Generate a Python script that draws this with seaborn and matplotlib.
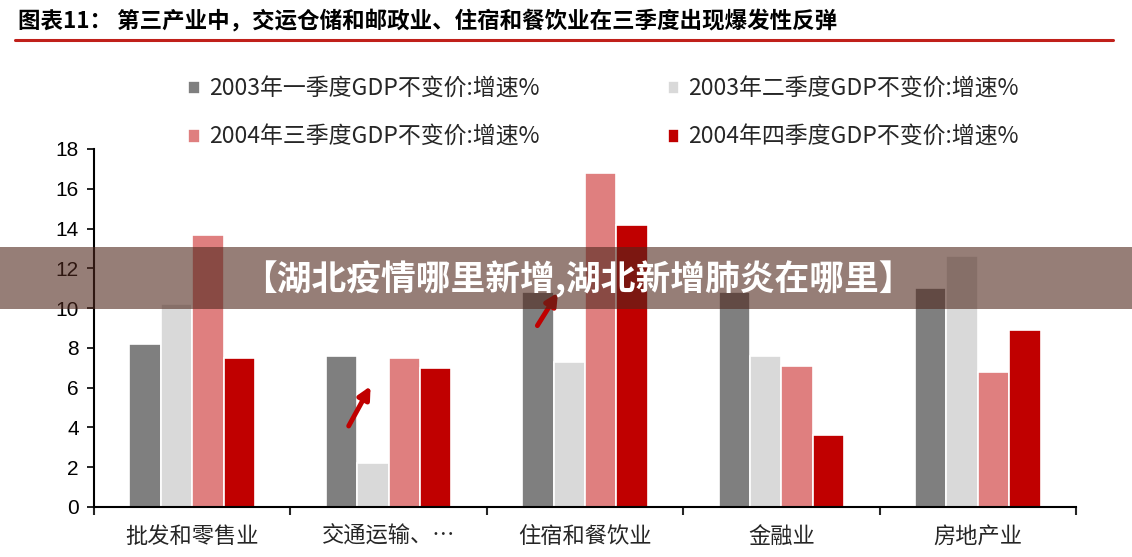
import matplotlib
matplotlib.use("Agg")
import matplotlib.pyplot as plt
from matplotlib.patches import Rectangle
from matplotlib.lines import Line2D
import seaborn as sns
import pandas as pd

categories = ["批发和零售业", "交通运输、…", "住宿和餐饮业", "金融业", "房地产业"]
series_names = ["2003年一季度GDP不变价:增速%", "2003年二季度GDP不变价:增速%",
                "2004年三季度GDP不变价:增速%", "2004年四季度GDP不变价:增速%"]
q1_2003 = [8.2, 7.6, 10.8, 10.8, 11.0]
q2_2003 = [10.2, 2.2, 7.3, 7.6, 12.6]
q3_2004 = [13.7, 7.5, 16.8, 7.1, 6.8]
q4_2004 = [7.5, 7.0, 14.2, 3.6, 8.9]
colors = ["#7f7f7f", "#d9d9d9", "#df7f7f", "#c00000"]
title = "图表11： 第三产业中，交运仓储和邮政业、住宿和餐饮业在三季度出现爆发性反弹"
banner = "【湖北疫情哪里新增,湖北新增肺炎在哪里】"

rows = []
for name, vals in zip(series_names, [q1_2003, q2_2003, q3_2004, q4_2004]):
    for c, v in zip(categories, vals):
        rows.append({"行业": c, "系列": name, "值": v})
df = pd.DataFrame(rows)

sns.set_style("white")
plt.rcParams["font.family"] = ["Noto Sans CJK SC", "DejaVu Sans"]

fig = plt.figure(figsize=(11.32, 5.57), dpi=100)
ax = fig.add_axes([94/1132, 1-507/557, (1076-94)/1132, (507-149)/557])

sns.barplot(data=df, x="行业", y="值", hue="系列", order=categories,
            hue_order=series_names, palette=colors, saturation=1, width=0.64,
            edgecolor="white", linewidth=1.2, ax=ax, legend=True)

ax.set_ylim(0, 18)
ax.set_xlim(-0.5, len(categories) - 0.5)
ax.set_yticks(range(0, 19, 2))
ax.set_xlabel("")
ax.set_ylabel("")
for s in ["top", "right"]:
    ax.spines[s].set_visible(False)
for s in ["left", "bottom"]:
    ax.spines[s].set_color("black")
    ax.spines[s].set_linewidth(1.5)
ax.tick_params(axis="y", left=True, length=5, width=1.2, labelsize=15, pad=6, colors="black")
ax.tick_params(axis="x", which="major", length=0, labelsize=16, pad=13)
ax.set_xticks([i - 0.5 for i in range(len(categories) + 1)], minor=True)
ax.tick_params(axis="x", which="minor", bottom=True, length=6, width=1.5, direction="out")
for lbl in ax.get_yticklabels():
    lbl.set_family(["Liberation Sans", "DejaVu Sans"])

handles, labels = ax.get_legend_handles_labels()
ax.get_legend().remove()
order = [0, 2, 1, 3]
fig.legend([handles[i] for i in order], [labels[i] for i in order], ncol=2,
           loc="center", bbox_to_anchor=(0.533, 1-113.5/557), frameon=False,
           fontsize=16.5, handlelength=0.5, handleheight=0.5, handletextpad=0.4,
           labelspacing=1.1, columnspacing=5.6)

# arrows
ax.annotate("", xy=(0.915, 6.2), xytext=(0.79, 3.95),
            arrowprops=dict(arrowstyle="-|>", color="#c00000", lw=3.5, mutation_scale=18), zorder=5)
ax.annotate("", xy=(1.87, 10.9), xytext=(1.75, 9.0),
            arrowprops=dict(arrowstyle="-|>", color="#c00000", lw=3.5, mutation_scale=18), zorder=5)

# title and rule
fig.text(18/1132, 1-22/557, title, fontsize=16.2, fontweight="bold", va="center", ha="left", color="black")
fig.add_artist(Line2D([15/1132, 1113/1132], [1-40/557, 1-40/557], color="#c0201a", lw=2.2,
                      transform=fig.transFigure))

# banner overlay
fig.add_artist(Rectangle((0, 1-309/557), 1, 62/557, transform=fig.transFigure,
                         facecolor="#50281d", alpha=0.6, edgecolor="none", zorder=20))
fig.text(578/1132, 1-279/557, banner, fontsize=25, fontweight="bold", color="white",
         ha="center", va="center", zorder=21)

fig.savefig("out.png", dpi=100)
